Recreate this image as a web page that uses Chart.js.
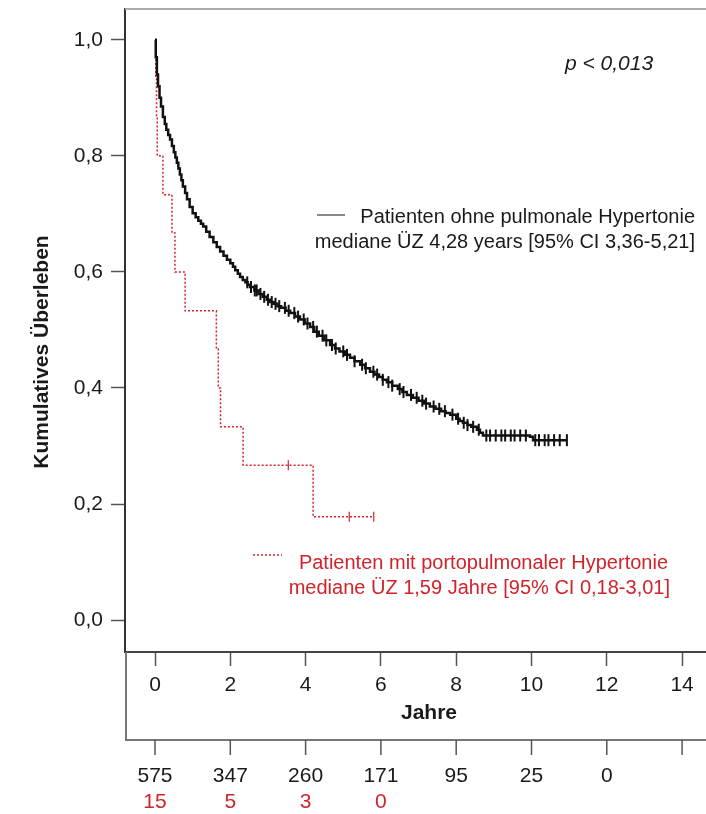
<!DOCTYPE html>
<html>
<head>
<meta charset="utf-8">
<script src="https://cdn.jsdelivr.net/npm/chart.js@4"></script>
<style>
  body { margin: 0; background: #fff; }
  canvas { display: block; }
</style>
</head>
<body>
<canvas id="km" width="706" height="814"></canvas>
<script>
// Kaplan-Meier curve, patients without pulmonary hypertension (years, survival)
const blackTimes = [0, 0.02, 0.05, 0.08, 0.12, 0.16, 0.21, 0.26, 0.3, 0.35, 0.4, 0.45, 0.5, 0.54, 0.58,
  0.62, 0.66, 0.7, 0.74, 0.8, 0.85, 0.92, 1.0, 1.08, 1.15, 1.22, 1.28, 1.36, 1.45, 1.55, 1.64, 1.73,
  1.82, 1.91, 2.0, 2.07, 2.13, 2.2, 2.26, 2.33, 2.4, 2.46, 2.52, 2.64, 2.75, 2.86, 2.97, 3.06, 3.15,
  3.25, 3.35, 3.47, 3.59, 3.72, 3.85, 3.98, 4.12, 4.23, 4.35, 4.5, 4.65, 4.78, 4.9, 5.04, 5.18, 5.3,
  5.45, 5.58, 5.71, 5.83, 5.95, 6.05, 6.16, 6.3, 6.45, 6.57, 6.69, 6.85, 7.0, 7.15, 7.3, 7.45, 7.6,
  7.72, 7.84, 8.0, 8.09, 8.18, 8.3, 8.4, 8.55, 8.63, 8.71, 9.96, 10.04, 10.94];
const blackSurv = [1.0, 0.97, 0.94, 0.92, 0.9, 0.885, 0.867, 0.855, 0.845, 0.836, 0.828, 0.817, 0.806,
  0.797, 0.788, 0.778, 0.768, 0.758, 0.747, 0.736, 0.725, 0.712, 0.701, 0.694, 0.688, 0.683, 0.678,
  0.669, 0.66, 0.651, 0.643, 0.635, 0.628, 0.621, 0.615, 0.609, 0.603, 0.597, 0.591, 0.586, 0.582,
  0.578, 0.574, 0.568, 0.562, 0.557, 0.552, 0.548, 0.545, 0.541, 0.538, 0.533, 0.529, 0.523, 0.518,
  0.511, 0.505, 0.497, 0.49, 0.482, 0.474, 0.468, 0.463, 0.457, 0.452, 0.446, 0.44, 0.434, 0.428,
  0.423, 0.419, 0.414, 0.41, 0.404, 0.398, 0.393, 0.388, 0.383, 0.378, 0.373, 0.368, 0.364, 0.36,
  0.357, 0.354, 0.347, 0.343, 0.34, 0.336, 0.333, 0.328, 0.323, 0.318, 0.316, 0.31, 0.31];
const blackCensor = [2.45, 2.55, 2.65, 2.7, 2.8, 2.9, 3.0, 3.1, 3.2, 3.3, 3.45, 3.55, 3.7, 3.8, 3.95,
  4.05, 4.2, 4.3, 4.45, 4.55, 4.7, 4.8, 5.0, 5.1, 5.3, 5.5, 5.6, 5.8, 5.9, 6.05, 6.2, 6.3, 6.5, 6.6,
  6.8, 6.95, 7.1, 7.2, 7.4, 7.55, 7.7, 7.9, 8.05, 8.2, 8.3, 8.45, 8.6, 8.8, 8.9, 9.05, 9.2, 9.3, 9.45,
  9.55, 9.7, 9.85, 10.1, 10.2, 10.35, 10.45, 10.6, 10.75, 10.94];

// Kaplan-Meier curve, patients with portopulmonary hypertension
const redTimes = [0, 0.02, 0.04, 0.06, 0.21, 0.45, 0.53, 0.8, 1.63, 1.68, 1.74, 2.34, 4.2, 5.81];
const redSurv = [1.0, 0.933, 0.867, 0.8, 0.733, 0.667, 0.6, 0.533, 0.467, 0.4, 0.333, 0.267, 0.178, 0.178];
const redCensor = [3.54, 5.16, 5.81];

// numbers at risk
const riskTimes = [0, 2, 4, 6, 8, 10, 12];
const riskBlack = [575, 347, 260, 171, 95, 25, 0];
const riskRed = [15, 5, 3, 0];

const blackLabel = ["Patienten ohne pulmonale Hypertonie", "mediane ÜZ 4,28 years [95% CI 3,36-5,21]"];
const redLabel = ["Patienten mit portopulmonaler Hypertonie", "mediane ÜZ 1,59 Jahre [95% CI 0,18-3,01]"];
const pText = "p < 0,013";
const yTitle = "Kumulatives Überleben";
const xTitle = "Jahre";

const FONT = "'Liberation Sans', Arial, sans-serif";
const RED = "#d2232b";

function toPoints(ts, ss) {
  return ts.map((t, i) => ({ x: t, y: ss[i] }));
}

// survival value of a step curve at time t (censor marks sit on the curve)
function survAt(ts, ss, t) {
  let v = ss[0];
  for (let i = 0; i < ts.length; i++) {
    if (ts[i] <= t) v = ss[i];
  }
  return v;
}

function censorPoints(ts, ss, cs) {
  return cs.map(t => ({ x: t, y: survAt(ts, ss, t) }));
}

const decorations = {
  id: "decorations",
  afterDraw(chart) {
    const ctx = chart.ctx;
    const xs = chart.scales.x;
    const area = chart.chartArea;
    ctx.save();

    // top frame line
    ctx.strokeStyle = "#aaa";
    ctx.lineWidth = 2;
    ctx.beginPath();
    ctx.moveTo(area.left, area.top);
    ctx.lineTo(area.right, area.top);
    ctx.stroke();

    // lower box for numbers at risk
    const boxBottom = 740;
    ctx.strokeStyle = "#777";
    ctx.lineWidth = 2;
    ctx.beginPath();
    ctx.moveTo(area.left + 1, area.bottom);
    ctx.lineTo(area.left + 1, boxBottom);
    ctx.lineTo(area.right, boxBottom);
    ctx.stroke();

    ctx.lineWidth = 1.5;
    ctx.strokeStyle = "#555";
    xs.ticks.forEach(tk => {
      const px = xs.getPixelForValue(tk.value);
      ctx.beginPath();
      ctx.moveTo(px, boxBottom);
      ctx.lineTo(px, boxBottom + 15);
      ctx.stroke();
    });

    ctx.font = "21px " + FONT;
    ctx.textAlign = "center";
    ctx.textBaseline = "middle";
    ctx.fillStyle = "#1a1a1a";
    riskBlack.forEach((n, i) => {
      ctx.fillText(String(n), xs.getPixelForValue(riskTimes[i]), 776);
    });
    ctx.fillStyle = RED;
    riskRed.forEach((n, i) => {
      ctx.fillText(String(n), xs.getPixelForValue(riskTimes[i]), 802);
    });

    // x axis title
    ctx.fillStyle = "#1a1a1a";
    ctx.font = "bold 21px " + FONT;
    ctx.fillText(xTitle, 429, 713);

    // y axis title
    ctx.save();
    ctx.translate(42, 352);
    ctx.rotate(-Math.PI / 2);
    ctx.font = "bold 21px " + FONT;
    ctx.fillText(yTitle, 0, 0);
    ctx.restore();

    // p value
    ctx.font = "italic 21px " + FONT;
    ctx.fillText(pText, 609, 64);

    // legend, black group
    ctx.textAlign = "right";
    ctx.textBaseline = "alphabetic";
    ctx.font = "20px " + FONT;
    ctx.strokeStyle = "#888";
    ctx.lineWidth = 2;
    ctx.beginPath();
    ctx.moveTo(317, 215);
    ctx.lineTo(345, 215);
    ctx.stroke();
    ctx.fillStyle = "#1a1a1a";
    ctx.fillText(blackLabel[0], 695, 223);
    ctx.fillText(blackLabel[1], 695, 248);

    // legend, red group
    ctx.strokeStyle = RED;
    ctx.lineWidth = 1.5;
    ctx.setLineDash([2, 2]);
    ctx.beginPath();
    ctx.moveTo(253, 555);
    ctx.lineTo(282, 555);
    ctx.stroke();
    ctx.setLineDash([]);
    ctx.fillStyle = RED;
    ctx.fillText(redLabel[0], 668, 569);
    ctx.fillText(redLabel[1], 670, 594);

    ctx.restore();
  }
};

new Chart(document.getElementById("km"), {
  type: "line",
  data: {
    datasets: [
      {
        label: blackLabel[0],
        data: toPoints(blackTimes, blackSurv),
        borderColor: "#111",
        borderWidth: 2.5,
        stepped: true,
        pointRadius: 0,
        fill: false
      },
      {
        label: redLabel[0],
        data: toPoints(redTimes, redSurv),
        borderColor: RED,
        borderWidth: 1.5,
        borderDash: [2, 2],
        stepped: true,
        pointRadius: 0,
        fill: false
      },
      {
        label: "censored",
        data: censorPoints(blackTimes, blackSurv, blackCensor),
        showLine: false,
        pointStyle: "line",
        rotation: 90,
        pointRadius: 6,
        borderColor: "#111",
        borderWidth: 2
      },
      {
        label: "censored",
        data: censorPoints(redTimes, redSurv, redCensor),
        showLine: false,
        pointStyle: "line",
        rotation: 90,
        pointRadius: 5,
        borderColor: RED,
        borderWidth: 1.2
      }
    ]
  },
  options: {
    responsive: false,
    animation: false,
    layout: { autoPadding: false, padding: { top: 9, right: 0, left: 0, bottom: 0 } },
    plugins: {
      legend: { display: false },
      tooltip: { enabled: false }
    },
    scales: {
      x: {
        type: "linear",
        min: -0.797,
        max: 14.635,
        afterFit(scale) {
          scale.height = 162;
          scale.paddingLeft = 0;
          scale.paddingRight = 0;
        },
        border: { display: true, color: "#444", width: 2 },
        grid: { drawOnChartArea: false, drawTicks: true, tickLength: 14, tickColor: "#555", tickWidth: 1.5 },
        ticks: {
          stepSize: 2,
          includeBounds: false,
          padding: 7,
          color: "#1a1a1a",
          font: { family: FONT, size: 21 }
        }
      },
      y: {
        type: "linear",
        min: -0.055,
        max: 1.053,
        afterFit(scale) {
          scale.width = 125;
          scale.paddingTop = 0;
          scale.paddingBottom = 0;
        },
        border: { display: true, color: "#333", width: 2 },
        grid: { drawOnChartArea: false, drawTicks: true, tickLength: 14, tickColor: "#555", tickWidth: 1.5 },
        ticks: {
          stepSize: 0.2,
          includeBounds: false,
          padding: 8,
          color: "#1a1a1a",
          font: { family: FONT, size: 21 },
          callback: v => v.toFixed(1).replace(".", ",")
        }
      }
    }
  },
  plugins: [decorations]
});
</script>
</body>
</html>
